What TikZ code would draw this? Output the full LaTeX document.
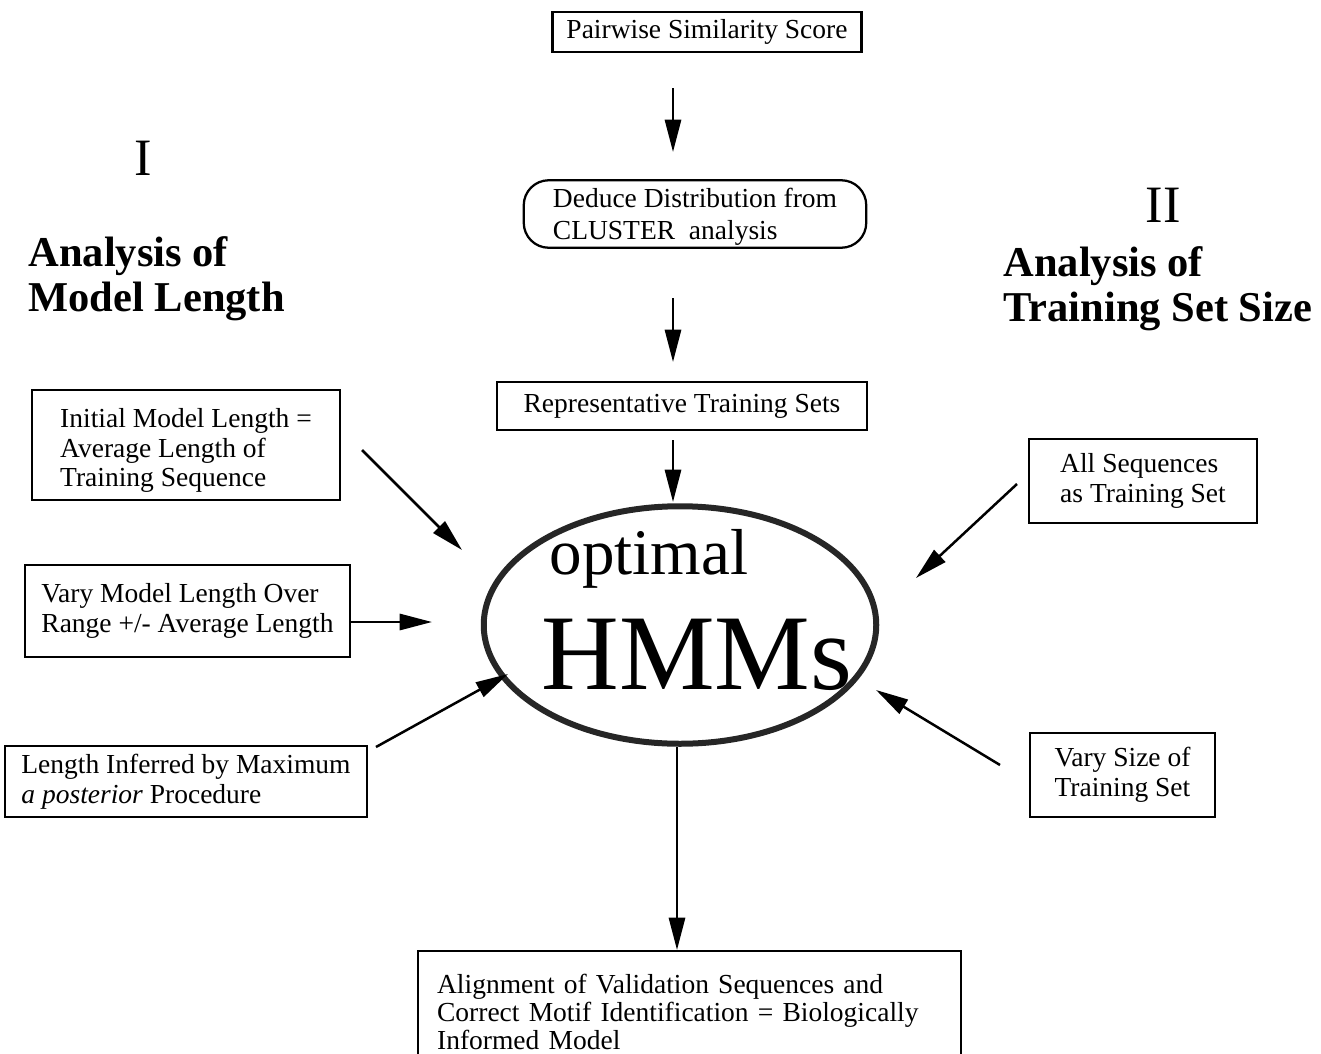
\documentclass[tikz,border=0pt]{standalone}
\usepackage{fontspec}
\setmainfont{Liberation Serif}
\usetikzlibrary{arrows.meta,positioning,shapes.geometric}

\begin{document}
\begin{tikzpicture}[x=0.4pt,y=-0.4pt,
  font=\fontsize{11}{12.2}\selectfont,
  box/.style={draw,line width=0.9pt,align=left,inner sep=0pt},
  arr/.style={-{Triangle[length=13pt,width=6.5pt]},line width=1pt},
  head/.style={font=\fontsize{17}{18}\selectfont\bfseries,align=left,inner sep=0pt,anchor=north west}]
  \clip (0,0) rectangle (1321,1054);
  % top chain
  \node[box,minimum width=123.6pt,minimum height=16pt] (pair) at (707,32) {Pairwise Similarity Score};
  \node[box,rounded corners=10pt,minimum width=137pt,minimum height=27pt,font=\fontsize{11}{12.6}\selectfont] (deduce) at (695,214) {\rule{0pt}{10pt}Deduce Distribution from\\CLUSTER\ \ analysis};
  \node[box,minimum width=148pt,minimum height=19pt] (rep) at (682,406) {Representative Training Sets};
  \node[draw,ellipse,line width=2.4pt,black!85,minimum width=157pt,minimum height=95pt] (hmm) at (680,625) {};
  \node[inner sep=0pt,font=\fontsize{26}{28}\selectfont] (opt) at (649,559) {optimal};
  \node[inner sep=0pt,font=\fontsize{43}{45}\selectfont] (hmms) at (697,655) {HMMs};
  % part I
  \node[inner sep=0pt,font=\fontsize{21}{24}\selectfont] (one) at (143,158) {I};
  \node[head] (lenhead) at (28,236) {Analysis of\\Model Length};
  \node[box,minimum width=123.2pt,minimum height=44pt,font=\fontsize{11}{11.8}\selectfont] (init) at (186,445) {\rule{0pt}{12pt}Initial Model Length =\\Average Length of\\Training Sequence};
  \node[box,minimum width=130pt,minimum height=37pt] (vary) at (187.5,611) {Vary Model Length Over\\Range +/- Average Length};
  \node[box,minimum width=145pt,minimum height=28.4pt] (infer) at (186,781.5) {Length Inferred by Maximum\\\textit{a posterior} Procedure};
  % part II
  \node[inner sep=0pt,font=\fontsize{21}{24}\selectfont] (two) at (1163,205) {II};
  \node[head] (sizehead) at (1003,246) {Analysis of\\Training Set Size};
  \node[box,minimum width=91.2pt,minimum height=33.6pt] (allseq) at (1143,481) {All Sequences\\as Training Set};
  \node[box,minimum width=74pt,minimum height=33.6pt] (vsize) at (1122.5,775) {Vary Size of\\Training Set};
  % result
  \node[box,anchor=north west,text width=202pt,inner xsep=7.6pt,inner ysep=0pt,minimum height=50pt,text depth=30pt,font=\fontsize{11}{9.6}\selectfont] (valid) at (417,950) {\rule{0pt}{14pt}Alignment of Validation Sequences and\\Correct Motif Identification = Biologically\\Informed Model};
  % arrow ends
  \coordinate (a1s) at (673,88);   \coordinate (a1e) at (673,152);
  \coordinate (a2s) at (673,298);  \coordinate (a2e) at (673,362);
  \coordinate (a3s) at (673,440);  \coordinate (a3e) at (673,502);
  \coordinate (b1s) at (362,450);  \coordinate (b1e) at (462,550);
  \coordinate (b2e) at (432,622);
  \coordinate (b3s) at (376,747);  \coordinate (b3e) at (508,674);
  \coordinate (c1s) at (1017,484); \coordinate (c1e) at (916,578);
  \coordinate (c2s) at (1000,765); \coordinate (c2e) at (876,690);
  \draw[arr] (a1s)--(a1e);
  \draw[arr] (a2s)--(a2e);
  \draw[arr] (a3s)--(a3e);
  \draw[arr] (b1s)--(b1e);
  \draw[arr] (vary.east |- b2e)--(b2e);
  \draw[arr] (b3s)--(b3e);
  \draw[arr] (c1s)--(c1e);
  \draw[arr] (c2s)--(c2e);
  \draw[arr] (hmm.south -| 677,0)--(valid.north -| 677,0);
\end{tikzpicture}
\end{document}
